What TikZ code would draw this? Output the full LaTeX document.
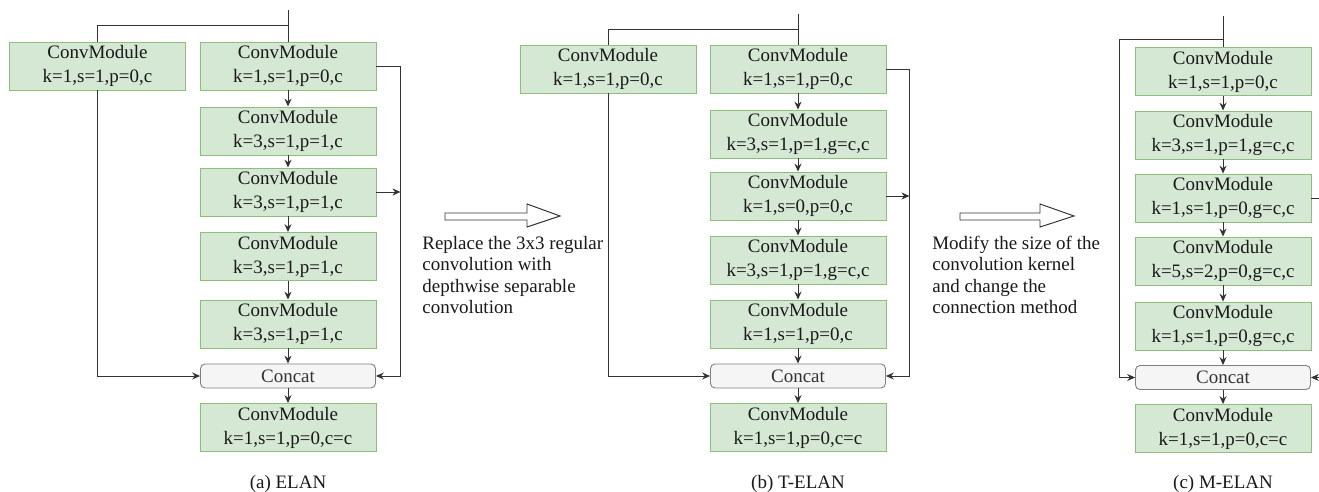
\documentclass[tikz,border=0pt]{standalone}
\usepackage{fontspec}
\setmainfont{Liberation Serif}
\usetikzlibrary{arrows.meta}
\definecolor{convfill}{HTML}{D5E8D4}
\definecolor{convline}{HTML}{8CC07A}
\definecolor{catfill}{HTML}{F5F5F5}
\definecolor{catline}{HTML}{808080}
\definecolor{linegray}{HTML}{333333}
\begin{document}
\begin{tikzpicture}[x=0.02cm, y=-0.02cm,
  every node/.style={font=\fontsize{10.8}{13.7}\selectfont, text=black!90},
  conv/.style={draw=convline, fill=convfill, line width=0.5pt, align=center,
    minimum width=3.52cm, minimum height=0.96cm, inner sep=0pt},
  concat/.style={draw=catline, fill=catfill, line width=0.5pt, rounded corners=2.5pt,
    minimum width=3.5cm, minimum height=0.48cm, inner sep=0pt, text=linegray},
  wire/.style={draw=linegray, line width=0.55pt},
  flow/.style={wire, -{Stealth[length=4.5pt,width=4pt]}},
  note/.style={anchor=west, align=left, inner sep=0pt, font=\fontsize{10.8}{12.2}\selectfont}]
  \useasboundingbox (0,0) rectangle (1319,492);
  \clip (0,0) rectangle (1319,492);

  % (a) ELAN
  \coordinate (ain) at (288,10);
  \coordinate (asplit) at (288,25);
  \node[conv] (aL) at (97.5,66) {ConvModule\\k=1,s=1,p=0,c};
  \node[conv] (a1) at (288,66) {ConvModule\\k=1,s=1,p=0,c};
  \node[conv] (a2) at (288,131) {ConvModule\\k=3,s=1,p=1,c};
  \node[conv] (a3) at (288,192) {ConvModule\\k=3,s=1,p=1,c};
  \node[conv] (a4) at (288,256.5) {ConvModule\\k=3,s=1,p=1,c};
  \node[conv] (a5) at (288,324) {ConvModule\\k=3,s=1,p=1,c};
  \node[concat] (ac) at (288,376) {Concat};
  \node[conv] (a6) at (288,427.5) {ConvModule\\k=1,s=1,p=0,c=c};
  \node[anchor=base] (capa) at (288,489) {(a) ELAN};

  \draw[wire] (ain) -- (a1);
  \draw[wire] (asplit) -| (aL.north);
  \draw[flow] (aL.south) |- (ac.west);
  \draw[flow] (a1) -- (a2);
  \draw[flow] (a2) -- (a3);
  \draw[flow] (a3) -- (a4);
  \draw[flow] (a4) -- (a5);
  \draw[flow] (a5) -- (ac);
  \draw[flow] (ac) -- (a6);
  \draw[flow] (a1.east) -- ++(24,0) coordinate (arail) |- (ac.east);
  \draw[flow] (a3.east) -- (a3.east -| arail);

  % step from (a) to (b)
  \draw[wire, fill=white] (445,213) -- (527,213) -- (527,204) -- (560,216) -- (527,227) -- (527,220) -- (445,220) -- cycle;
  \node[note] (nota) at (422,275) {Replace the 3x3 regular\\convolution with\\depthwise separable\\convolution};

  % (b) T-ELAN
  \coordinate (bin) at (798,14);
  \coordinate (bsplit) at (798,29);
  \node[conv] (bL) at (608,69) {ConvModule\\k=1,s=1,p=0,c};
  \node[conv] (b1) at (798,69) {ConvModule\\k=1,s=1,p=0,c};
  \node[conv] (b2) at (798,134) {ConvModule\\k=3,s=1,p=1,g=c,c};
  \node[conv] (b3) at (798,196) {ConvModule\\k=1,s=0,p=0,c};
  \node[conv] (b4) at (798,260) {ConvModule\\k=3,s=1,p=1,g=c,c};
  \node[conv] (b5) at (798,324) {ConvModule\\k=1,s=1,p=0,c};
  \node[concat] (bc) at (798,376) {Concat};
  \node[conv] (b6) at (798,427.5) {ConvModule\\k=1,s=1,p=0,c=c};
  \node[anchor=base] (capb) at (798,489) {(b) T-ELAN};

  \draw[wire] (bin) -- (b1);
  \draw[wire] (bsplit) -| (bL.north);
  \draw[flow] (bL.south) |- (bc.west);
  \draw[flow] (b1) -- (b2);
  \draw[flow] (b2) -- (b3);
  \draw[flow] (b3) -- (b4);
  \draw[flow] (b4) -- (b5);
  \draw[flow] (b5) -- (bc);
  \draw[flow] (bc) -- (b6);
  \draw[flow] (b1.east) -- ++(23,0) coordinate (brail) |- (bc.east);
  \draw[flow] (b3.east) -- (b3.east -| brail);

  % step from (b) to (c)
  \draw[wire, fill=white] (960,213) -- (1040,213) -- (1040,204) -- (1074,216) -- (1040,227) -- (1040,220) -- (960,220) -- cycle;
  \node[note] (notb) at (932,275) {Modify the size of the\\convolution kernel\\and change the\\connection method};

  % (c) M-ELAN
  \coordinate (cin) at (1223,16);
  \coordinate (csplit) at (1223,39);
  \node[conv] (c1) at (1223,71.5) {ConvModule\\k=1,s=1,p=0,c};
  \node[conv] (c2) at (1223,135) {ConvModule\\k=3,s=1,p=1,g=c,c};
  \node[conv] (c3) at (1223,198) {ConvModule\\k=1,s=1,p=0,g=c,c};
  \node[conv] (c4) at (1223,261) {ConvModule\\k=5,s=2,p=0,g=c,c};
  \node[conv] (c5) at (1223,326) {ConvModule\\k=1,s=1,p=0,g=c,c};
  \node[concat] (cc) at (1223,377.5) {Concat};
  \node[conv] (c6) at (1223,428.5) {ConvModule\\k=1,s=1,p=0,c=c};
  \node[anchor=base] (capc) at (1223,489) {(c) M-ELAN};

  \draw[wire] (cin) -- (c1);
  \draw[flow] (csplit) -- ++(-104,0) |- (cc.west);
  \draw[flow] (c1) -- (c2);
  \draw[flow] (c2) -- (c3);
  \draw[flow] (c3) -- (c4);
  \draw[flow] (c4) -- (c5);
  \draw[flow] (c5) -- (cc);
  \draw[flow] (cc) -- (c6);
  \draw[flow] (c3.east) -- ++(23,0) |- (cc.east);
\end{tikzpicture}
\end{document}
